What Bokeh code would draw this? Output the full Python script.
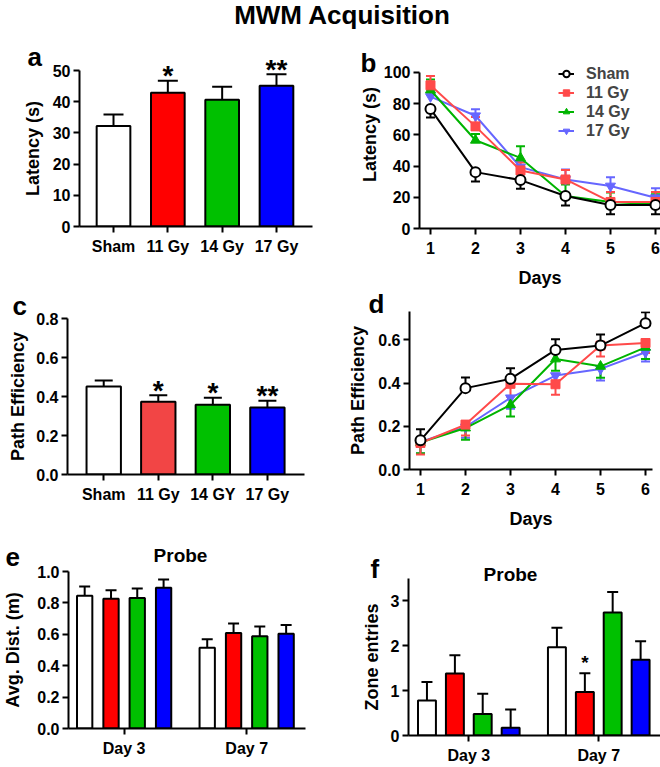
from bokeh.plotting import figure
from bokeh.models import (Whisker, TeeHead, ColumnDataSource, Legend, LegendItem,
                          FixedTicker, Div, Range1d, PrintfTickFormatter)
from bokeh.layouts import column, row
from bokeh.embed import file_html
from bokeh.resources import INLINE
from bokeh.core.properties import value

FONT = "Liberation Sans"

# ---------------- data ----------------
groups = ["Sham", "11 Gy", "14 Gy", "17 Gy"]
c_groups = ["Sham", "11 Gy", "14 GY", "17 Gy"]
days = [1, 2, 3, 4, 5, 6]
probe_days = ["Day 3", "Day 7"]

a_mean = [32.2, 42.9, 40.6, 45.1]
a_err = [3.7, 3.8, 4.2, 3.7]
a_sig = ["", "*", "", "**"]

c_mean = [0.451, 0.373, 0.358, 0.344]
c_err = [0.031, 0.034, 0.035, 0.034]
c_sig = ["", "*", "*", "**"]

b_sham = [76.6, 36.1, 31.0, 20.8, 15.1, 15.1]
b_sham_err = [5.5, 6.0, 5.5, 6.0, 6.0, 6.0]
b_11 = [91.7, 65.4, 37.2, 31.4, 17.0, 17.0]
b_11_err = [6.0, 6.0, 5.0, 6.0, 6.4, 6.4]
b_14 = [88.7, 56.5, 45.2, 20.8, 17.0, 15.5]
b_14_err = [6.8, 4.0, 7.5, 7.4, 6.0, 6.4]
b_17 = [84.5, 72.2, 39.3, 31.4, 27.2, 19.7]
b_17_err = [4.0, 4.2, 4.0, 6.4, 5.7, 6.0]

d_sham = [0.135, 0.377, 0.420, 0.554, 0.574, 0.678]
d_sham_err = [0.051, 0.049, 0.049, 0.049, 0.052, 0.050]
d_11 = [0.123, 0.208, 0.397, 0.395, 0.574, 0.586]
d_11_err = [0.054, 0.050, 0.059, 0.049, 0.051, 0.046]
d_14 = [0.125, 0.192, 0.300, 0.512, 0.478, 0.566]
d_14_err = [0.050, 0.054, 0.054, 0.054, 0.053, 0.054]
d_17 = [0.128, 0.197, 0.332, 0.435, 0.466, 0.543]
d_17_err = [0.054, 0.050, 0.050, 0.050, 0.054, 0.043]

e_vals = [[0.846, 0.514], [0.827, 0.609], [0.831, 0.588], [0.896, 0.603]]
e_errs = [[0.059, 0.055], [0.053, 0.059], [0.061, 0.061], [0.053, 0.057]]

f_vals = [[0.78, 1.97], [1.38, 0.97], [0.48, 2.74], [0.17, 1.69]]
f_errs = [[0.41, 0.43], [0.41, 0.42], [0.45, 0.46], [0.41, 0.41]]
f_sig = [["", ""], ["", "*"], ["", ""], ["", ""]]

bar_colors = ["white", "#FF0000", "#00C000", "#0000FF"]
bar_colors_c = ["white", "#F24545", "#00C000", "#0000FF"]
line_colors = ["black", "#FF4A4A", "#00B400", "#6666FF"]


def make_fig(w, h, left, right, top, bottom, xr, yr):
    p = figure(width=w, height=h, x_range=xr, y_range=yr, output_backend="svg",
               toolbar_location=None, title=None, frame_align=False,
               min_border_left=left, min_border_right=right,
               min_border_top=top, min_border_bottom=bottom)
    p.outline_line_color = None
    p.grid.visible = False
    p.background_fill_color = "white"
    p.border_fill_color = "white"
    for ax in p.axis:
        ax.axis_line_width = 2
        ax.axis_line_color = "black"
        ax.major_tick_line_width = 2
        ax.major_tick_out = 6
        ax.major_tick_in = 0
        ax.minor_tick_line_color = None
        ax.major_label_text_font = FONT
        ax.major_label_text_font_style = "bold"
        ax.major_label_text_font_size = "16px"
        ax.major_label_text_color = "black"
        ax.axis_label_text_font = FONT
        ax.axis_label_text_font_style = "bold"
        ax.axis_label_text_font_size = "18px"
        ax.axis_label_text_color = "black"
    p.yaxis.major_label_standoff = 3
    p.xaxis.major_label_standoff = 5
    return p


def add_text(p, txt, dx, dy, size, align="left"):
    # dx, dy: pixel distances of the text's middle from the frame's bottom-left corner
    p.text(x=[p.x_range.start], y=[p.y_range.start], text=[txt], x_offset=dx, y_offset=-dy,
           level="overlay", text_align=align, text_baseline="middle",
           text_font=value(FONT), text_font_style="bold", text_font_size=size,
           text_color="black")


def bar_panel(p, labels, means, errs, colors, sig, width, cap, sig_size, sig_off):
    xs = list(range(1, len(labels) + 1))
    src = ColumnDataSource(dict(x=xs, top=means,
                                upper=[m + e for m, e in zip(means, errs)],
                                color=colors, sig=sig))
    p.vbar(x="x", top="top", width=width, fill_color="color", line_color="black",
           line_width=2, source=src)
    p.add_layout(Whisker(base="x", lower="top", upper="upper", source=src,
                         line_width=2, line_color="black",
                         upper_head=TeeHead(size=cap, line_width=2, line_color="black"),
                         lower_head=None))
    p.text(x="x", y="upper", text="sig", source=src, text_align="center",
           text_baseline="middle", y_offset=sig_off, level="overlay",
           text_font=value(FONT), text_font_style="bold", text_font_size=sig_size)
    p.xaxis.ticker = FixedTicker(ticks=xs)
    p.xaxis.major_label_overrides = {i: l for i, l in zip(xs, labels)}


def line_panel(p, series, errs, sham_up):
    markers = ["circle", "square", "triangle", "inverted_triangle"]
    sizes = [10, 9, 10, 10]
    rends = [None] * 4
    for i in [3, 2, 1, 0]:
        col = line_colors[i]
        vals = series[i]
        er = errs[i]
        up = sham_up if i == 0 else (not sham_up)
        if up:
            lo = vals
            hi = [v + e for v, e in zip(vals, er)]
        else:
            lo = [v - e for v, e in zip(vals, er)]
            hi = vals
        src = ColumnDataSource(dict(x=days, y=vals, lo=lo, hi=hi))
        head = TeeHead(size=9, line_width=2, line_color=col)
        p.add_layout(Whisker(base="x", lower="lo", upper="hi", source=src,
                             line_width=2, line_color=col,
                             upper_head=head if up else None,
                             lower_head=None if up else head))
        l = p.line("x", "y", source=src, line_color=col, line_width=2)
        s = p.scatter("x", "y", source=src, marker=markers[i], size=sizes[i],
                      fill_color="white" if i == 0 else col, line_color=col,
                      line_width=2 if i == 0 else 1)
        rends[i] = [l, s]
    p.xaxis.ticker = FixedTicker(ticks=days)
    return rends


def probe_panel(p, vals, errs, width, cap, sig=None):
    offs = [-0.322, -0.107, 0.107, 0.322]
    for i in range(4):
        xs = [g + 1 + offs[i] for g in range(len(probe_days))]
        src = ColumnDataSource(dict(x=xs, top=vals[i],
                                    upper=[v + e for v, e in zip(vals[i], errs[i])],
                                    sig=sig[i] if sig else ["", ""]))
        p.vbar(x="x", top="top", width=width, fill_color=bar_colors[i], line_color="black",
               line_width=2, source=src)
        p.add_layout(Whisker(base="x", lower="top", upper="upper", source=src,
                             line_width=2, line_color="black",
                             upper_head=TeeHead(size=cap, line_width=2, line_color="black"),
                             lower_head=None))
        if sig:
            p.text(x="x", y="upper", text="sig", source=src, text_align="center",
                   text_baseline="middle", y_offset=-11, level="overlay",
                   text_font=value(FONT), text_font_style="bold", text_font_size="19px")
    ticks = [g + 1 for g in range(len(probe_days))]
    p.xaxis.ticker = FixedTicker(ticks=ticks)
    p.xaxis.major_label_overrides = {t: l for t, l in zip(ticks, probe_days)}


# ---------------- title ----------------
title = Div(text="<div style=\"font-family:'Liberation Sans';font-weight:bold;font-size:26px;"
                 "line-height:26px;text-align:center;padding-left:24px;width:660px;"
                 "box-sizing:border-box;margin-top:2px;\">MWM Acquisition</div>",
            width=660, height=40, margin=0)

# ---------------- panel a ----------------
pa = make_fig(330, 250, 79, 18, 30, 64, Range1d(0.374, 4.663), Range1d(0, 50))
bar_panel(pa, groups, a_mean, a_err, bar_colors, a_sig, 0.62, 20, "28px", -5)
pa.yaxis.ticker = FixedTicker(ticks=[0, 10, 20, 30, 40, 50])
pa.yaxis.axis_label = "Latency (s)"
pa.yaxis.axis_label_standoff = 7
add_text(pa, "a", -52, 170, "26px")

# ---------------- panel b ----------------
# frame extended to the top of the figure; the axis itself stops at 100
pb = make_fig(330, 250, 89, 0, 0, 61, Range1d(0.756, 6.111), Range1d(0, 120.4))
rb = line_panel(pb, [b_sham, b_11, b_14, b_17], [b_sham_err, b_11_err, b_14_err, b_17_err], sham_up=False)
pb.yaxis.ticker = FixedTicker(ticks=[0, 20, 40, 60, 80, 100])
pb.yaxis.bounds = (0, 100)
pb.yaxis.axis_label = "Latency (s)"
pb.yaxis.axis_label_standoff = 1
pb.xaxis.axis_label = "Days"
pb.xaxis.axis_label_standoff = 11
pb.xaxis.major_label_standoff = 7
leg = Legend(items=[LegendItem(label=groups[i], renderers=rb[i]) for i in range(4)],
             location=(139, 88), padding=0, spacing=0, glyph_height=19, label_height=19,
             glyph_width=16, label_standoff=12, border_line_color=None,
             background_fill_alpha=0, label_text_font=FONT, label_text_font_style="bold",
             label_text_font_size="16px", label_text_line_height=1.0)
pb.add_layout(leg)
add_text(pb, "b", -59, 166, "26px")

# ---------------- panel c ----------------
pc = make_fig(330, 250, 67, 26, 28, 66, Range1d(0.336, 4.68), Range1d(0, 0.8))
bar_panel(pc, c_groups, c_mean, c_err, bar_colors_c, c_sig, 0.63, 18, "28px", -5)
pc.yaxis.ticker = FixedTicker(ticks=[0, 0.2, 0.4, 0.6, 0.8])
pc.yaxis.formatter = PrintfTickFormatter(format="%.1f")
pc.yaxis.axis_label = "Path Efficiency"
pc.yaxis.axis_label_standoff = 5
add_text(pc, "c", -55, 169, "26px")

# ---------------- panel d ----------------
pd_ = make_fig(330, 250, 79, 8, 21, 71, Range1d(0.756, 6.155), Range1d(0, 0.732))
line_panel(pd_, [d_sham, d_11, d_14, d_17], [d_sham_err, d_11_err, d_14_err, d_17_err], sham_up=True)
pd_.yaxis.ticker = FixedTicker(ticks=[0, 0.2, 0.4, 0.6])
pd_.yaxis.formatter = PrintfTickFormatter(format="%.1f")
pd_.yaxis.axis_label = "Path Efficiency"
pd_.yaxis.axis_label_standoff = 7
pd_.xaxis.axis_label = "Days"
pd_.xaxis.axis_label_standoff = 11
pd_.xaxis.major_label_standoff = 7
add_text(pd_, "d", -41, 166, "26px")

# ---------------- panel e ----------------
pe = make_fig(330, 227, 63, 25, 31, 39, Range1d(0.546, 2.48), Range1d(0, 1.0))
probe_panel(pe, e_vals, e_errs, 0.125, 11)
pe.yaxis.ticker = FixedTicker(ticks=[0, 0.2, 0.4, 0.6, 0.8, 1.0])
pe.yaxis.formatter = PrintfTickFormatter(format="%.1f")
pe.yaxis.axis_label = "Avg. Dist. (m)"
pe.yaxis.axis_label_standoff = 11
add_text(pe, "Probe", 112, 173, "19px", align="center")
add_text(pe, "e", -63, 172, "26px")

# ---------------- panel f ----------------
pf = make_fig(330, 227, 78, 0, 38, 32, Range1d(0.536, 2.475), Range1d(0, 3.5))
probe_panel(pf, f_vals, f_errs, 0.138, 11, sig=f_sig)
pf.yaxis.ticker = FixedTicker(ticks=[0, 1, 2, 3])
pf.yaxis.axis_label = "Zone entries"
pf.yaxis.axis_label_standoff = 6
pf.xaxis.major_label_standoff = 5
add_text(pf, "Probe", 102, 161, "19px", align="center")
add_text(pf, "f", -38, 167, "26px")

layout = column(title, row(pa, pb, spacing=0), row(pc, pd_, spacing=0), row(pe, pf, spacing=0), spacing=0)

open("out.html", "w").write(file_html(layout, INLINE))
